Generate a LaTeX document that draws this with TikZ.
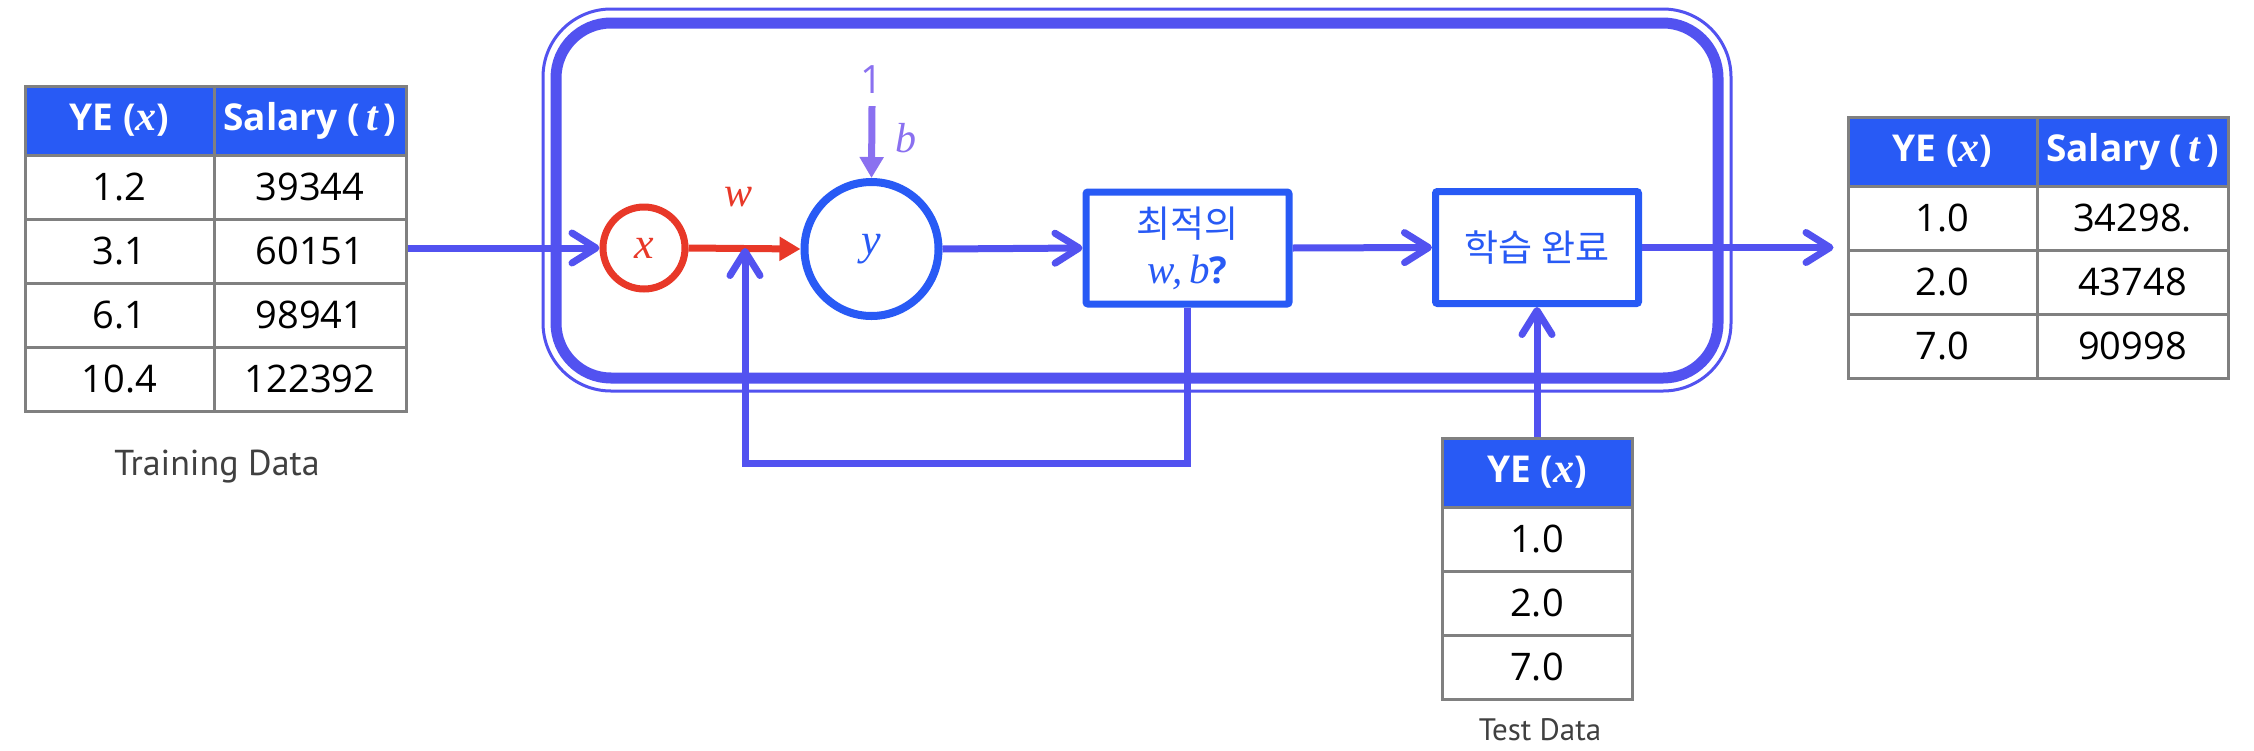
\documentclass[tikz,border=0pt]{standalone}
\usepackage{fontspec}
\setmainfont{Open Sans}
\newfontfamily\krfont{Noto Sans CJK KR}
\newfontfamily\capfont{PT Sans}
\newfontfamily\mifont{Liberation Serif}
\newcommand\mv[1]{{\mifont\itshape #1}}
\usetikzlibrary{arrows.meta}
\definecolor{arrc}{RGB}{82,82,240}
\definecolor{boxc}{RGB}{40,90,245}
\definecolor{hdrc}{RGB}{40,90,245}
\definecolor{redc}{RGB}{232,56,40}
\definecolor{purc}{RGB}{138,112,240}
\definecolor{grayc}{RGB}{128,128,128}
\definecolor{txtgray}{RGB}{64,64,64}
\tikzset{
  cell/.style={draw=grayc, line width=3pt, inner sep=0pt, minimum height=64pt, text=black, font=\fontsize{38}{44}\selectfont},
  hcell/.style={cell, fill=hdrc, text=white, minimum height=69pt, font=\fontsize{37}{44}\selectfont\bfseries},
  conn/.style={draw=arrc, line width=7pt, -{Straight Barb[length=24pt,width=30pt,round]}},
  fconn/.style={line width=7pt, -{Triangle[length=21pt,width=23pt]}},
  procbox/.style={draw=boxc, line width=7pt, minimum width=203pt, minimum height=112pt, rounded corners=2pt, align=center, text=boxc, inner sep=0pt, font=\fontsize{37}{46}\selectfont},
  neuron/.style={circle, inner sep=0pt, font=\fontsize{44}{48}\selectfont},
  lbl/.style={inner sep=0pt, font=\fontsize{42}{46}\selectfont},
  captext/.style={inner sep=0pt, text=txtgray}
}
\newcommand\hdrx{{\fontsize{42}{44}\selectfont\mv{x}}}
\newcommand\hdrt{{\fontsize{42}{44}\selectfont\mv{t}}}
\begin{document}
\begin{tikzpicture}[x=1pt,y=-1pt]
\useasboundingbox[fill=white] (0,0) rectangle (2254,750);
% frame
\node[draw=arrc, line width=3pt, rounded corners=68pt, minimum width=1188pt, minimum height=382pt, inner sep=0pt] (frameout) at (1137,200) {};
\node[draw=arrc, line width=11pt, rounded corners=55pt, minimum width=1162pt, minimum height=355pt, inner sep=0pt] (frame) at (1137,200.5) {};
% training table
\node[hcell, minimum width=189pt] (th1) at (119.5,120.5) {YE (\hdrx)};
\node[hcell, minimum width=192pt] (th2) at (310,120.5) {Salary (\,\hdrt\,)};
\node[cell, minimum width=189pt] (t11) at (119.5,187) {1.2};
\node[cell, minimum width=192pt] (t12) at (310,187) {39344};
\node[cell, minimum width=189pt] (t21) at (119.5,251) {3.1};
\node[cell, minimum width=192pt] (t22) at (310,251) {60151};
\node[cell, minimum width=189pt] (t31) at (119.5,315) {6.1};
\node[cell, minimum width=192pt] (t32) at (310,315) {98941};
\node[cell, minimum width=189pt] (t41) at (119.5,379) {10.4};
\node[cell, minimum width=192pt] (t42) at (310,379) {122392};
\node[captext, font=\capfont\fontsize{36}{40}\selectfont] (trcap) at (217,467) {Training Data};
% result table
\node[hcell, minimum width=189pt] (rh1) at (1942.5,151.5) {YE (\hdrx)};
\node[hcell, minimum width=191pt] (rh2) at (2132.5,151.5) {Salary (\,\hdrt\,)};
\node[cell, minimum width=189pt] (r11) at (1942.5,218) {1.0};
\node[cell, minimum width=191pt] (r12) at (2132.5,218) {34298.};
\node[cell, minimum width=189pt] (r21) at (1942.5,282) {2.0};
\node[cell, minimum width=191pt] (r22) at (2132.5,282) {43748};
\node[cell, minimum width=189pt] (r31) at (1942.5,346) {7.0};
\node[cell, minimum width=191pt] (r32) at (2132.5,346) {90998};
% test table
\node[hcell, minimum width=190pt] (sh) at (1537,472.5) {YE (\hdrx)};
\node[cell, minimum width=190pt] (s1) at (1537,539) {1.0};
\node[cell, minimum width=190pt] (s2) at (1537,603) {2.0};
\node[cell, minimum width=190pt] (s3) at (1537,667) {7.0};
\node[captext, font=\capfont\fontsize{31}{36}\selectfont] (tecap) at (1540,730) {Test Data};
% neurons and boxes
\node[neuron, draw=redc, line width=7pt, minimum size=82pt, text=redc] (xc) at (644,248) {\mv{x}};
\node[neuron, draw=boxc, line width=8pt, minimum size=134pt, text=boxc] (yc) at (871.5,249) {\mv{y}};
\node[procbox] (b1) at (1187.5,248) {{\krfont 최적의}\\{\fontsize{41}{46}\selectfont\mv{w,\,b}}\textbf{?}};
\node[procbox] (b2) at (1537,247.5) {{\krfont 학습 완료}};
\node[lbl, text=redc] (wl) at (738,197) {\mv{w}};
\node[lbl, text=purc] (bl) at (906,138) {\mv{b}};
\node[lbl, text=purc, font=\fontsize{39}{44}\selectfont] (one) at (872,80) {1};
\coordinate (wpt) at (745,248);
\coordinate (fbc) at (745,463);
% connectors
\draw[conn] (xc.west -| t22.east) -- (xc.west);
\draw[fconn, draw=redc, fill=redc] (xc.east) -- (yc.west);
\draw[fconn, draw=purc, fill=purc] ([yshift=-12pt]one.south) -- (yc.north);
\draw[conn] (yc.east) -- (b1.west);
\draw[conn] (b1.east) -- (b2.west);
\draw[conn, shorten >=13pt] (b2.east) -- (b2.east -| rh1.west);
\draw[conn] (sh.north) -- (b2.south);
\draw[conn] (b1.south) |- (fbc) -- (wpt);
\end{tikzpicture}
\end{document}
